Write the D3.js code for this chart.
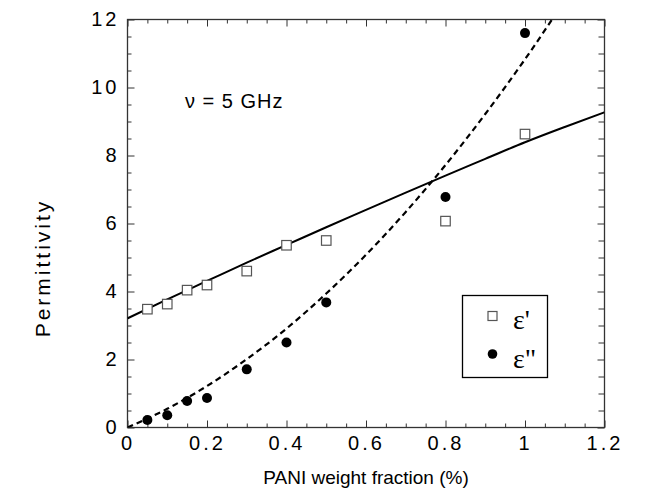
<!DOCTYPE html>
<html>
<head>
<meta charset="utf-8">
<script src="https://cdn.jsdelivr.net/npm/d3@7"></script>
<style>
  body { margin: 0; background: #fff; }
  text { font-family: "Liberation Sans", Arial, Helvetica, sans-serif; fill: #000; }
</style>
</head>
<body>
<script>
// measured points
const fraction = [0.05, 0.1, 0.15, 0.2, 0.3, 0.4, 0.5, 0.8, 1.0];
const epsReal = [3.48, 3.63, 4.04, 4.19, 4.6, 5.36, 5.5, 6.07, 8.63];
const epsImag = [0.22, 0.36, 0.78, 0.87, 1.71, 2.5, 3.68, 6.78, 11.6];

// fit curves
const fitX = [0, 0.1, 0.2, 0.3, 0.4, 0.5, 0.6, 0.7, 0.8, 0.9, 1.0, 1.1, 1.2];
const fitReal = [3.21, 3.77, 4.31, 4.85, 5.37, 5.89, 6.40, 6.91, 7.41, 7.90, 8.39, 8.84, 9.27];
const fitImag = [0, 0.55, 1.22, 2.01, 2.91, 3.94, 5.08, 6.34, 7.72, 9.22, 10.83, 12.56, null];

const xTicks = [0, 0.2, 0.4, 0.6, 0.8, 1, 1.2];
const yTicks = [0, 2, 4, 6, 8, 10, 12];

const width = 647, height = 499;
const pLeft = 127.5, pRight = 604.5, pTop = 19.5, pBottom = 427.5;

const svg = d3.select("body").append("svg")
    .attr("width", width)
    .attr("height", height);

const x = d3.scaleLinear().domain([0, 1.2]).range([pLeft, pRight]);
const y = d3.scaleLinear().domain([0, 12]).range([pBottom, pTop]);

const xMinor = d3.range(0, 1.2001, 0.05).filter(v => Math.abs(v / 0.2 - Math.round(v / 0.2)) > 1e-6);
const yMinor = d3.range(0, 12.001, 0.5).filter(v => v % 2 !== 0);

function styleAxis(g) {
  g.select(".domain").remove();
  g.selectAll("line").attr("stroke", "#333").attr("stroke-width", 1);
}
function styleLabels(g) {
  g.selectAll("text").attr("font-size", 20).style("letter-spacing", "3px")
    .style("font-family", '"Liberation Sans", Arial, sans-serif').attr("fill", "#000");
}

// bottom axis (labels)
svg.append("g")
    .attr("transform", `translate(0,${pBottom})`)
    .call(d3.axisBottom(x).tickValues(xTicks).tickSizeInner(-7).tickSizeOuter(0).tickPadding(8)
      .tickFormat(d => d3.format("~g")(d)))
    .call(styleAxis)
    .call(styleLabels);
svg.append("g")
    .attr("transform", `translate(0,${pBottom})`)
    .call(d3.axisBottom(x).tickValues(xMinor).tickSizeInner(-4).tickSizeOuter(0).tickFormat(""))
    .call(styleAxis);

// top axis
svg.append("g")
    .attr("transform", `translate(0,${pTop})`)
    .call(d3.axisTop(x).tickValues(xTicks).tickSizeInner(-7).tickSizeOuter(0).tickFormat(""))
    .call(styleAxis);
svg.append("g")
    .attr("transform", `translate(0,${pTop})`)
    .call(d3.axisTop(x).tickValues(xMinor).tickSizeInner(-4).tickSizeOuter(0).tickFormat(""))
    .call(styleAxis);

// left axis (labels)
svg.append("g")
    .attr("transform", `translate(${pLeft},0)`)
    .call(d3.axisLeft(y).tickValues(yTicks).tickSizeInner(-7).tickSizeOuter(0).tickPadding(8))
    .call(styleAxis)
    .call(styleLabels);
svg.append("g")
    .attr("transform", `translate(${pLeft},0)`)
    .call(d3.axisLeft(y).tickValues(yMinor).tickSizeInner(-4).tickSizeOuter(0).tickFormat(""))
    .call(styleAxis);

// right axis
svg.append("g")
    .attr("transform", `translate(${pRight},0)`)
    .call(d3.axisRight(y).tickValues(yTicks).tickSizeInner(-7).tickSizeOuter(0).tickFormat(""))
    .call(styleAxis);
svg.append("g")
    .attr("transform", `translate(${pRight},0)`)
    .call(d3.axisRight(y).tickValues(yMinor).tickSizeInner(-6).tickSizeOuter(0).tickFormat(""))
    .call(styleAxis);

// frame
svg.append("rect")
    .attr("x", pLeft).attr("y", pTop)
    .attr("width", pRight - pLeft).attr("height", pBottom - pTop)
    .attr("fill", "none").attr("stroke", "#333").attr("stroke-width", 1.3);

// clip for fit curves
svg.append("clipPath").attr("id", "plot")
  .append("rect").attr("x", pLeft).attr("y", pTop).attr("width", pRight - pLeft).attr("height", pBottom - pTop);

const line = d3.line()
    .defined(d => d[1] != null)
    .x(d => x(d[0]))
    .y(d => y(d[1]))
    .curve(d3.curveMonotoneX);

svg.append("path")
    .datum(fitX.map((v, i) => [v, fitReal[i]]))
    .attr("clip-path", "url(#plot)")
    .attr("d", line)
    .attr("fill", "none")
    .attr("stroke", "#000")
    .attr("stroke-width", 2);

svg.append("path")
    .datum(fitX.map((v, i) => [v, fitImag[i]]))
    .attr("clip-path", "url(#plot)")
    .attr("d", line)
    .attr("fill", "none")
    .attr("stroke", "#000")
    .attr("stroke-width", 2.2)
    .attr("stroke-dasharray", "6,4");

// markers
const sq = 9.5;
svg.selectAll(".re")
    .data(fraction)
  .enter().append("rect")
    .attr("class", "re")
    .attr("x", d => x(d) - sq / 2)
    .attr("y", (d, i) => y(epsReal[i]) - sq / 2)
    .attr("width", sq).attr("height", sq)
    .attr("fill", "#fff").attr("stroke", "#555").attr("stroke-width", 1.2);

svg.selectAll(".im")
    .data(fraction)
  .enter().append("circle")
    .attr("class", "im")
    .attr("cx", d => x(d))
    .attr("cy", (d, i) => y(epsImag[i]))
    .attr("r", 5)
    .attr("fill", "#000");

// annotation
svg.append("text")
    .attr("x", 185).attr("y", 108)
    .attr("font-size", 20)
    .style("letter-spacing", "1px")
    .text("ν = 5 GHz");

// legend
const lg = svg.append("g");
lg.append("rect")
    .attr("x", 462.5).attr("y", 295.5).attr("width", 85).attr("height", 82)
    .attr("fill", "#fff").attr("stroke", "#000").attr("stroke-width", 1.3);
lg.append("rect")
    .attr("x", 488).attr("y", 311.5).attr("width", 9).attr("height", 9)
    .attr("fill", "#fff").attr("stroke", "#555").attr("stroke-width", 1.2);
lg.append("circle")
    .attr("cx", 492.5).attr("cy", 354).attr("r", 4.8).attr("fill", "#000");
lg.append("text").attr("x", 513).attr("y", 329).attr("font-size", 28)
    .style("font-family", '"Liberation Serif", "Times New Roman", serif').text("ε'");
lg.append("text").attr("x", 513).attr("y", 368).attr("font-size", 28)
    .style("font-family", '"Liberation Serif", "Times New Roman", serif').text("ε\"");

// axis titles
svg.append("text")
    .attr("x", 366).attr("y", 484)
    .attr("text-anchor", "middle")
    .attr("font-size", 19)
    .text("PANI weight fraction (%)");

svg.append("text")
    .attr("transform", "translate(50,268) rotate(-90)")
    .attr("text-anchor", "middle")
    .attr("font-size", 21)
    .style("letter-spacing", "3px")
    .text("Permittivity");
</script>
</body>
</html>
